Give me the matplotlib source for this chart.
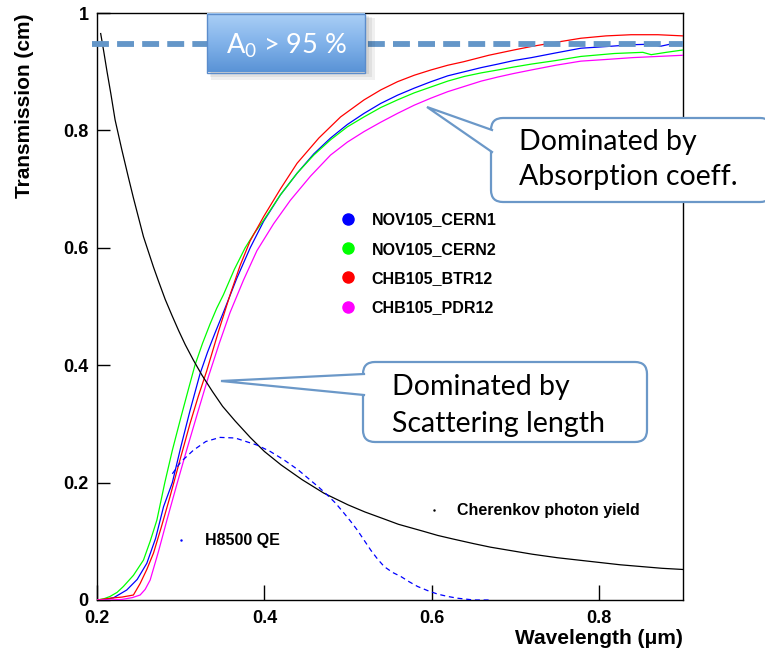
import numpy as np
import matplotlib
matplotlib.use('Agg')
import matplotlib.pyplot as plt
from matplotlib.lines import Line2D
from matplotlib.patches import FancyBboxPatch, Polygon, Rectangle
from matplotlib.colors import LinearSegmentedColormap

# ------------------------------
# values (wavelength in um, transmission)
WL_CERN1 = [0.200, 0.210, 0.220, 0.2355, 0.248, 0.2595, 0.270, 0.2795, 0.290, 0.300, 0.311, 0.323,
            0.332, 0.341, 0.351, 0.367, 0.383, 0.399, 0.419, 0.439, 0.459, 0.479, 0.499, 0.519,
            0.539, 0.559, 0.579, 0.599, 0.619, 0.639, 0.659, 0.679, 0.698, 0.719, 0.748, 0.778,
            0.810, 0.840, 0.866, 0.872, 0.885, 0.900]
T_CERN1 = [0.0, 0.001, 0.004, 0.017, 0.035, 0.0625, 0.105, 0.159, 0.200, 0.260, 0.322, 0.385,
           0.422, 0.455, 0.490, 0.548, 0.600, 0.645, 0.690, 0.727, 0.760, 0.787, 0.810, 0.829,
           0.846, 0.860, 0.872, 0.883, 0.893, 0.900, 0.907, 0.913, 0.919, 0.924, 0.932, 0.940,
           0.943, 0.946, 0.947, 0.943, 0.947, 0.950]

WL_CERN2 = [0.200, 0.208, 0.2155, 0.224, 0.2315, 0.2435, 0.2555, 0.2635, 0.2715, 0.281, 0.290, 0.300,
            0.309, 0.317, 0.326, 0.335, 0.343, 0.351, 0.364, 0.377, 0.388, 0.399, 0.419, 0.439,
            0.459, 0.479, 0.499, 0.519, 0.539, 0.559, 0.579, 0.599, 0.619, 0.639, 0.659, 0.679,
            0.698, 0.719, 0.748, 0.778, 0.818, 0.852, 0.862, 0.880, 0.900]
T_CERN2 = [0.0, 0.002, 0.006, 0.013, 0.023, 0.042, 0.068, 0.100, 0.136, 0.200, 0.255, 0.310,
           0.358, 0.400, 0.437, 0.470, 0.497, 0.520, 0.563, 0.600, 0.625, 0.647, 0.690, 0.727,
           0.758, 0.784, 0.806, 0.823, 0.839, 0.852, 0.864, 0.874, 0.884, 0.892, 0.898, 0.903,
           0.908, 0.913, 0.919, 0.926, 0.931, 0.933, 0.929, 0.933, 0.937]

WL_BTR12 = [0.200, 0.216, 0.230, 0.2435, 0.2515, 0.2595, 0.2675, 0.277, 0.287, 0.299, 0.311, 0.321,
            0.331, 0.345, 0.359, 0.371, 0.383, 0.399, 0.419, 0.439, 0.465, 0.491, 0.519, 0.539,
            0.559, 0.579, 0.599, 0.619, 0.638, 0.668, 0.698, 0.719, 0.748, 0.778, 0.808, 0.838,
            0.870, 0.900]
T_BTR12 = [0.0, 0.003, 0.005, 0.0085, 0.028, 0.052, 0.080, 0.125, 0.175, 0.238, 0.300, 0.347,
           0.390, 0.457, 0.520, 0.570, 0.612, 0.653, 0.700, 0.744, 0.787, 0.823, 0.852, 0.869,
           0.883, 0.894, 0.903, 0.911, 0.917, 0.928, 0.937, 0.943, 0.950, 0.957, 0.961, 0.963,
           0.963, 0.961]

WL_PDR12 = [0.200, 0.215, 0.230, 0.242, 0.2515, 0.2575, 0.2635, 0.2735, 0.2835, 0.295, 0.307, 0.320,
            0.333, 0.346, 0.359, 0.375, 0.391, 0.411, 0.431, 0.455, 0.479, 0.499, 0.519, 0.539,
            0.559, 0.579, 0.599, 0.619, 0.639, 0.659, 0.679, 0.698, 0.719, 0.748, 0.778, 0.810,
            0.840, 0.870, 0.900]
T_PDR12 = [0.0, 0.0, 0.001, 0.004, 0.0085, 0.018, 0.034, 0.083, 0.136, 0.195, 0.255, 0.318,
           0.380, 0.437, 0.490, 0.545, 0.595, 0.641, 0.681, 0.722, 0.758, 0.780, 0.798, 0.814,
           0.829, 0.843, 0.855, 0.866, 0.875, 0.884, 0.891, 0.897, 0.903, 0.911, 0.918, 0.921,
           0.924, 0.926, 0.928]

WL_CHERENKOV = [0.2044, 0.208, 0.212, 0.2166, 0.2216, 0.2295, 0.2375, 0.2435, 0.2495, 0.2555, 0.2615,
                0.2675, 0.2735, 0.2815, 0.2895, 0.2975, 0.3054, 0.315, 0.3254, 0.338, 0.350, 0.365,
                0.383, 0.400, 0.420, 0.445, 0.471, 0.500, 0.520, 0.543, 0.560, 0.575, 0.590, 0.607,
                0.625, 0.650, 0.670, 0.695, 0.720, 0.750, 0.775, 0.800, 0.825, 0.850, 0.875, 0.900]
T_CHERENKOV = [0.965, 0.935, 0.900, 0.862, 0.818, 0.768, 0.720, 0.685, 0.652, 0.619, 0.593,
               0.567, 0.543, 0.512, 0.485, 0.459, 0.435, 0.409, 0.383, 0.355, 0.330, 0.305,
               0.277, 0.253, 0.230, 0.205, 0.182, 0.162, 0.150, 0.138, 0.129, 0.123, 0.117, 0.110,
               0.104, 0.096, 0.090, 0.084, 0.078, 0.072, 0.068, 0.064, 0.060, 0.057, 0.054, 0.052]

WL_QE = [0.290, 0.300, 0.315, 0.330, 0.347, 0.365, 0.391, 0.407, 0.423, 0.440, 0.455, 0.465,
         0.475, 0.485, 0.495, 0.503, 0.511, 0.519, 0.527, 0.535, 0.543, 0.553, 0.563, 0.573,
         0.583, 0.595, 0.607, 0.619, 0.631, 0.650, 0.671]
T_QE = [0.215, 0.235, 0.255, 0.270, 0.277, 0.276, 0.264, 0.253, 0.239, 0.222, 0.204, 0.192,
        0.179, 0.165, 0.148, 0.134, 0.119, 0.102, 0.085, 0.070, 0.057, 0.047, 0.040, 0.031,
        0.023, 0.016, 0.010, 0.006, 0.003, 0.0, 0.0]

SERIES_LABELS = ['NOV105_CERN1', 'NOV105_CERN2', 'CHB105_BTR12', 'CHB105_PDR12']
SERIES_COLORS = ['#0000ff', '#00ff00', '#ff0000', '#ff00ff']
A0_LEVEL = 0.947
X_TICKS = [0.2, 0.4, 0.6, 0.8]
Y_TICKS = [0, 0.2, 0.4, 0.6, 0.8, 1]
Y_TICK_LABELS = ['0', '0.2', '0.4', '0.6', '0.8', '1']
# ------------------------------

plt.rcParams['font.family'] = ['Liberation Sans', 'DejaVu Sans']
plt.rcParams['mathtext.fontset'] = 'custom'
plt.rcParams['mathtext.rm'] = 'Lato'
plt.rcParams['mathtext.default'] = 'regular'

EDGE = '#6b98c8'
W, H = 765, 649

fig = plt.figure(figsize=(W / 100, H / 100), dpi=100)
ax = fig.add_axes([97 / W, 49 / H, 586 / W, 587 / H])

series = [(WL_CERN1, T_CERN1), (WL_CERN2, T_CERN2), (WL_BTR12, T_BTR12), (WL_PDR12, T_PDR12)]
for (wl, t), c in zip(series, SERIES_COLORS):
    ax.plot(wl, t, color=c, lw=0.9, zorder=3)

ax.plot(WL_CHERENKOV, T_CHERENKOV, color='black', lw=0.9, zorder=3)
ax.plot(WL_QE, T_QE, color='#0000ff', lw=0.9, ls=(0, (4, 3)), zorder=3)

# A0 level line
ax.hlines(A0_LEVEL, 0.194, 0.9, colors='#6496c8', lw=4.2, linestyles=(0, (2.9, 1.4)),
          clip_on=False, zorder=4)

ax.set_xlim(0.2, 0.9)
ax.set_ylim(0, 1)
ax.set_xticks(X_TICKS)
ax.set_xticklabels([f'{v:.1f}' for v in X_TICKS])
ax.set_yticks(Y_TICKS)
ax.set_yticklabels(Y_TICK_LABELS)
for lab in ax.get_xticklabels() + ax.get_yticklabels():
    lab.set_fontweight('bold')
    lab.set_fontsize(13)
ax.tick_params(axis='y', direction='in', length=9, width=1, pad=6, right=False)
ax.tick_params(axis='x', direction='in', length=11, width=1, pad=7, top=False)
for sp in ax.spines.values():
    sp.set_linewidth(1.0)

ax.set_ylabel('Transmission (cm)', fontsize=15, fontweight='bold', loc='top', labelpad=21)
ax.set_xlabel('Wavelength (μm)', fontsize=15, fontweight='bold', loc='right', labelpad=2)

handles = [Line2D([], [], marker='o', ls='none', color=c, markersize=8) for c in SERIES_COLORS]
ax.legend(handles, SERIES_LABELS, loc='upper left', bbox_to_anchor=(0.391, 0.685),
          frameon=False, handlelength=1.0, handletextpad=0.95, labelspacing=0.9,
          prop={'weight': 'bold', 'size': 11.5})

# small ROOT legends for the two reference curves
ax.plot([0.3006], [0.102], marker='.', ms=1.5, color='#0000ff')
ax.text(0.329, 0.102, 'H8500 QE', fontsize=11.5, fontweight='bold', va='center')
ax.plot([0.6024], [0.153], marker='.', ms=1.5, color='black')
ax.text(0.630, 0.153, 'Cherenkov photon yield', fontsize=11.5, fontweight='bold', va='center')

# overlay in pixel coords for the callouts
over = fig.add_axes([0, 0, 1, 1], zorder=5)
over.set_xlim(0, W)
over.set_ylim(H, 0)
over.axis('off')
over.patch.set_alpha(0)

# A0 box with shadow and gradient
for i, a in enumerate([0.06, 0.06, 0.07, 0.08]):
    over.add_patch(Rectangle((207 + 4 - i, 13 + 5 - i), 158 + 2 * (3 - i), 60 + 2 * (3 - i) - 4,
                             color='black', alpha=a, lw=0, zorder=2))
grad = np.linspace(0, 1, 100)[:, None]
cmap = LinearSegmentedColormap.from_list('box', ['#abcff6', '#82b3ea', '#5a93d6'])
over.imshow(grad, extent=(207, 365, 72.5, 13.5), cmap=cmap, aspect='auto', zorder=3)
over.add_patch(Rectangle((207, 13.5), 158, 59, fc='none', ec='#5b8ccb', lw=1.0, zorder=4))
over.text(286, 46, 'A$_0$ > 95 %', color='white', fontsize=19.5, family='Lato',
          ha='center', va='center', zorder=5)


def callout(x0, y0, x1, y1, base, tip, lines, tx, ty0, dy):
    over.add_patch(FancyBboxPatch((x0, y0), x1 - x0, y1 - y0,
                                  boxstyle='round,pad=0,rounding_size=12',
                                  fc='white', ec=EDGE, lw=1.6, zorder=3))
    (bx, by0), (_, by1) = base
    over.add_patch(Polygon([(bx + 2, by0), tip, (bx + 2, by1)], closed=True,
                           fc='white', ec='none', zorder=4))
    over.plot([bx + 1, tip[0], bx + 1], [by0, tip[1], by1], color=EDGE, lw=1.6,
              solid_joinstyle='miter', zorder=5)
    for i, s in enumerate(lines):
        over.text(tx, ty0 + i * dy, s, fontsize=20.5, family='Lato', color='black',
                  ha='left', va='baseline', zorder=6)


callout(491, 118, 772, 202, [(491, 130), (491, 152)], (427, 107),
        ['Dominated by', 'Absorption coeff.'], 519, 150, 35)
callout(363, 362, 647, 442, [(363, 374), (363, 395)], (221, 381),
        ['Dominated by', 'Scattering length'], 392, 395, 37)

fig.savefig('out.png', dpi=100)
